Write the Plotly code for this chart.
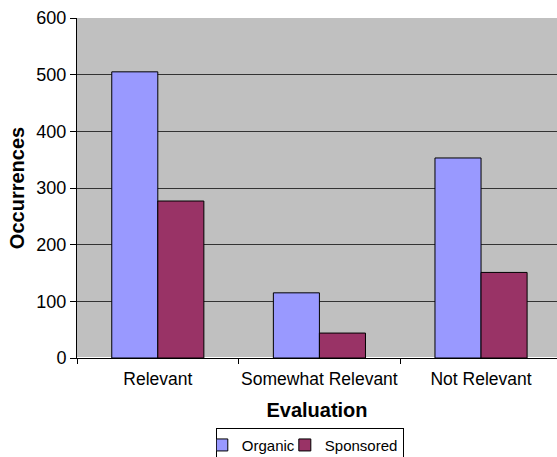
import plotly.graph_objects as go

categories = ["Relevant", "Somewhat Relevant", "Not Relevant"]
organic = [505, 115, 353]
sponsored = [277, 44, 151]
y_ticks = [0, 100, 200, 300, 400, 500, 600]

FONT = "Liberation Sans, Arial, sans-serif"

fig = go.Figure()
fig.add_trace(go.Bar(name="Organic", x=categories, y=organic,
                     marker=dict(color="#9999FF", line=dict(color="black", width=1))))
fig.add_trace(go.Bar(name="Sponsored", x=categories, y=sponsored,
                     marker=dict(color="#993366", line=dict(color="black", width=1))))

fig.update_layout(
    width=557, height=457,
    margin=dict(l=77, r=0, t=18, b=99, autoexpand=False),
    paper_bgcolor="white", plot_bgcolor="#C0C0C0",
    barmode="group", bargap=0.43, bargroupgap=0,
    font=dict(family=FONT, color="black", size=15),
    showlegend=True,
    legend=dict(orientation="h", x=0.485, xanchor="center", y=-0.205, yanchor="top",
                bordercolor="black", borderwidth=1, font=dict(size=15),
                itemwidth=30, tracegroupgap=0, indentation=-15),
)
fig.update_xaxes(
    range=[-0.5, 2.47], tickson="boundaries", ticks="outside", ticklen=5,
    tickcolor="black", showline=True, linecolor="black", linewidth=1,
    tickfont=dict(size=17.5), tickangle=0, automargin=False, ticklabelstandoff=5,
    title=dict(text="<b>Evaluation</b>", font=dict(size=20), standoff=14),
)
fig.update_yaxes(
    range=[0, 600], tickvals=y_ticks, ticks="outside", ticklen=6,
    tickcolor="black", showline=True, linecolor="black", linewidth=1,
    showgrid=True, gridcolor="#333333", gridwidth=1,
    tickfont=dict(size=18), automargin=False,
    title=dict(text="<b>Occurrences</b>", font=dict(size=20), standoff=6),
)

fig.write_html(
    "out.html",
    config={"displayModeBar": False},
    post_script="document.body.style.margin='0';document.body.style.overflow='hidden';",
)
